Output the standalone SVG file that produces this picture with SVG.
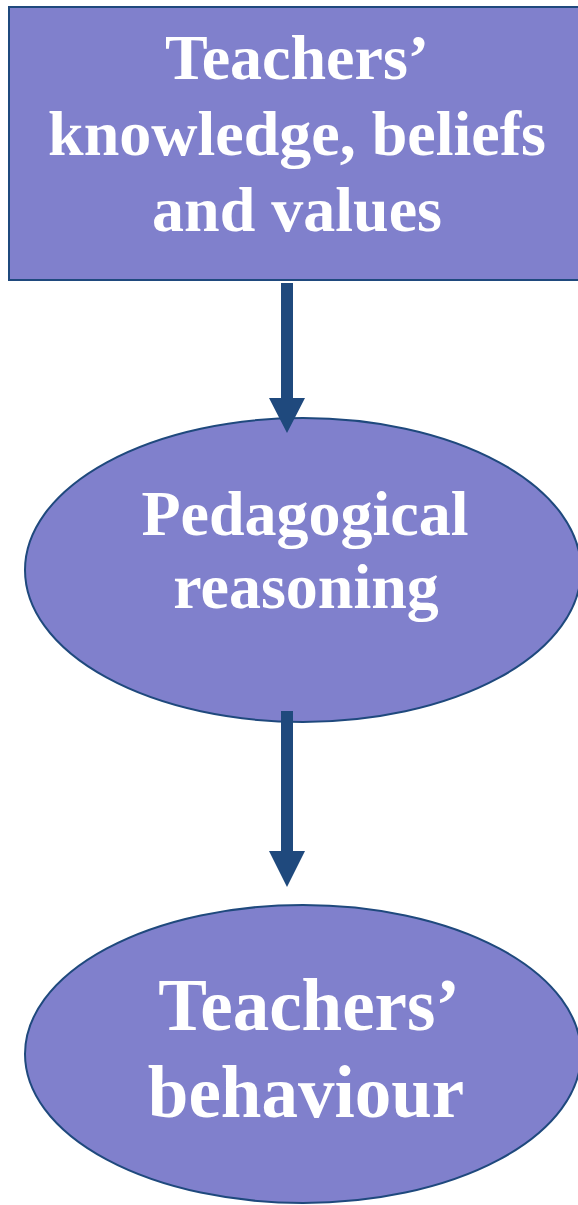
<svg xmlns="http://www.w3.org/2000/svg" width="578" height="1205" viewBox="0 0 578 1205">
<style>
.shape{fill:#8080CC;stroke:#1F497D;stroke-width:2}
.lbl{font-family:"Liberation Serif","Times New Roman",serif;font-weight:bold;fill:#FFFFFF;text-anchor:middle}
.arr{fill:#1F497D}
</style>
<rect width="578" height="1205" fill="#FFFFFF"/>
<g id="node-knowledge">
<rect class="shape" x="9" y="7" width="580" height="273"/>
<text class="lbl" font-size="64"><tspan x="297" y="79">Teachers’</tspan><tspan x="297" y="155">knowledge, beliefs</tspan><tspan x="297" y="231">and values</tspan></text>
</g>
<g id="node-reasoning">
<ellipse class="shape" cx="303" cy="570" rx="278" ry="152"/>
<text class="lbl" font-size="64"><tspan x="305" y="535">Pedagogical</tspan><tspan x="306" y="608">reasoning</tspan></text>
</g>
<g id="node-behaviour">
<ellipse class="shape" cx="303" cy="1054" rx="278" ry="149"/>
<text class="lbl" font-size="73"><tspan x="309" y="1030">Teachers’</tspan><tspan x="306" y="1117">behaviour</tspan></text>
</g>
<g id="connectors">
<polygon class="arr" points="281,283 293,283 293,398 305,398 287,433 269,398 281,398"/>
<polygon class="arr" points="281,711 293,711 293,851 305,851 287,887 269,851 281,851"/>
</g>
</svg>
